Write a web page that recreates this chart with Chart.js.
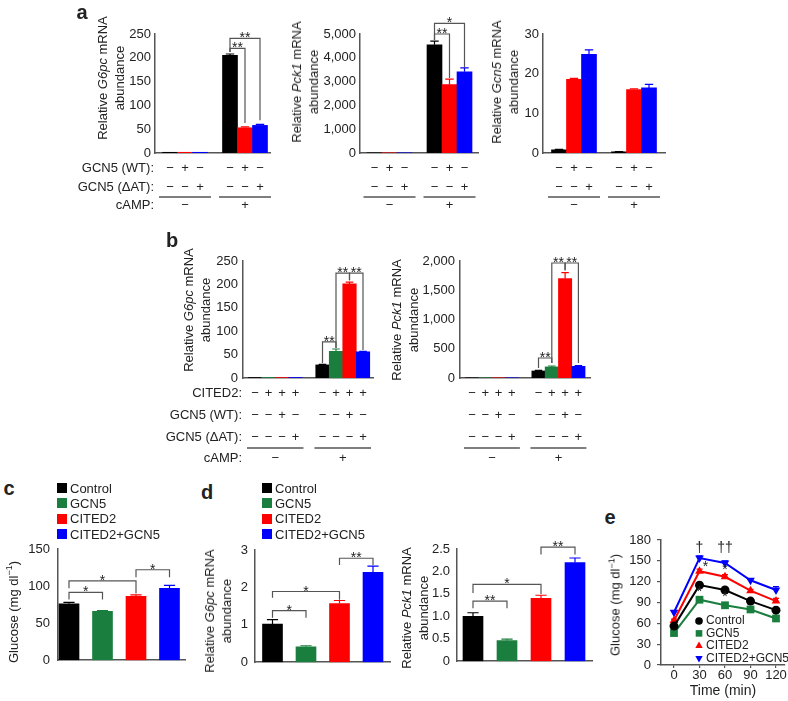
<!DOCTYPE html>
<html>
<head>
<meta charset="utf-8">
<script src="https://cdn.jsdelivr.net/npm/chart.js@4.4.1/dist/chart.umd.min.js"></script>
<style>
body { margin: 0; background: #fff; width: 788px; height: 701px; position: relative; overflow: hidden;
       font-family: "Liberation Sans", Arial, sans-serif; color: #222; }
canvas { position: absolute; }
.t { position: absolute; white-space: nowrap; font-size: 13px; line-height: 17px; }
.rot { transform: translate(-50%, -50%) rotate(-90deg); text-align: center; }
.panel { position: absolute; font-weight: bold; font-size: 20px; transform: translate(-50%, -50%); }
.sq { position: absolute; width: 10px; height: 10px; }
sup { font-size: 9px; line-height: 0; }
</style>
</head>
<body>
<script>
// ---- data ----

// panel a: hepatocytes, GCN5 WT / GCN5 dAT, with and without cAMP
const aGcn5WT = ["−", "+", "−", "−", "+", "−"];
const aGcn5dAT = ["−", "−", "+", "−", "−", "+"];
const aCamp = ["−", "+"];
const aG6pc = [1.5, 1.5, 1.5, 205, 53, 58];
const aG6pcErr = [0, 0, 0, 3, 2, 2];
const aPck1 = [8, 8, 8, 4550, 2870, 3410];
const aPck1Err = [0, 0, 0, 150, 230, 170];
const aGcn5 = [0.8, 18.6, 24.9, 0.3, 16.0, 16.4];
const aGcn5Err = [0.1, 0.2, 1.1, 0.05, 0.2, 0.9];

// panel b: CITED2 with GCN5 WT / GCN5 dAT
const bCited2 = ["−", "+", "+", "+", "−", "+", "+", "+"];
const bGcn5WT = ["−", "−", "+", "−", "−", "−", "+", "−"];
const bGcn5dAT = ["−", "−", "−", "+", "−", "−", "−", "+"];
const bCamp = ["−", "+"];
const bG6pc = [1, 1, 1, 1, 28, 57, 201, 56];
const bG6pcErr = [0, 0, 0, 0, 1, 5, 4, 1];
const bPck1 = [3, 3, 3, 3, 120, 190, 1700, 200];
const bPck1Err = [0, 0, 0, 0, 10, 15, 100, 10];

// panels c, d: mice
const groups = ["Control", "GCN5", "CITED2", "CITED2+GCN5"];
const cGlucose = [76, 66, 86, 97];
const cGlucoseErr = [2, 0.8, 2, 4];
const dG6pc = [1.02, 0.41, 1.57, 2.4];
const dG6pcErr = [0.12, 0.03, 0.08, 0.17];
const dPck1 = [1.0, 0.46, 1.4, 2.2];
const dPck1Err = [0.08, 0.03, 0.07, 0.1];

// panel e: glucose tolerance
const timeMin = [0, 30, 60, 90, 120];
const eControl = [56, 115, 108, 92, 79];
const eGcn5 = [46, 94, 86, 80, 67];
const eCited2 = [64, 135, 127, 107, 92];
const eBoth = [76, 154, 147, 122, 108];
const eControlErr = [2, 3, 2, 2, 3];
const eGcn5Err = [2, 2, 2, 2, 2];
const eCited2Err = [2, 3, 3, 2, 4];
const eBothErr = [2, 3, 3, 2, 5];

// ---- styles ----
const BLACK = "#000000", RED = "#ff0000", BLUE = "#0000ff", GREEN = "#1a7f3e";
const AXIS = "#555555";
const FONT = '13px "Liberation Sans", Arial, sans-serif';
const STAR = '14px "Liberation Sans", Arial, sans-serif';
const YW = 40;

Chart.defaults.font.family = '"Liberation Sans", Arial, sans-serif';
Chart.defaults.font.size = 13;
Chart.defaults.color = "#222";

const aColors = [BLACK, RED, BLUE, BLACK, RED, BLUE];
const bColors = [BLACK, GREEN, RED, BLUE, BLACK, GREEN, RED, BLUE];
const cColors = [BLACK, GREEN, RED, BLUE];

// bars of one group sit side by side, one empty slot between groups
function slots(n, perGroup) {
    return Array.from({ length: n }, (_, i) => i + 1 + Math.floor(i / perGroup));
}

function addCanvas(left, top, w, h) {
    const c = document.createElement("canvas");
    c.width = w; c.height = h;
    c.style.left = left + "px"; c.style.top = top + "px";
    c.style.width = w + "px"; c.style.height = h + "px";
    document.body.appendChild(c);
    return c;
}

function addText(html, x, y, cls, extra) {
    const d = document.createElement("div");
    d.className = cls;
    d.innerHTML = html;
    d.style.left = x + "px"; d.style.top = y + "px";
    if (extra) d.style.cssText += extra;
    document.body.appendChild(d);
    return d;
}

// error bars, significance brackets and the +/- table under the bars
function extras(o) {
    return {
        id: "extras",
        afterDatasetsDraw(chart) {
            const ctx = chart.ctx, x = chart.scales.x, y = chart.scales.y;
            ctx.save();
            ctx.lineWidth = 1.2;
            o.values.forEach((v, i) => {
                const e = o.errors[i];
                if (!e) return;
                const px = x.getPixelForValue(o.xs[i]);
                const y0 = y.getPixelForValue(v), y1 = y.getPixelForValue(v + e);
                const cap = o.barW * 0.28;
                ctx.strokeStyle = o.colors[i];
                ctx.beginPath();
                ctx.moveTo(px, y0); ctx.lineTo(px, y1);
                ctx.moveTo(px - cap, y1); ctx.lineTo(px + cap, y1);
                ctx.stroke();
            });
            ctx.restore();
        },
        afterDraw(chart) {
            const ctx = chart.ctx, x = chart.scales.x, y = chart.scales.y;
            const area = chart.chartArea;
            ctx.save();
            ctx.strokeStyle = AXIS;
            ctx.fillStyle = "#222";
            ctx.lineWidth = 1.2;
            (o.brackets || []).forEach(b => {
                const x1 = x.getPixelForValue(o.xs[b.from]), x2 = x.getPixelForValue(o.xs[b.to]);
                const yl = y.getPixelForValue(b.level);
                ctx.beginPath();
                ctx.moveTo(x1, y.getPixelForValue(b.ends[0]));
                ctx.lineTo(x1, yl); ctx.lineTo(x2, yl);
                ctx.lineTo(x2, y.getPixelForValue(b.ends[1]));
                ctx.stroke();
                ctx.font = STAR; ctx.textAlign = "center"; ctx.textBaseline = "alphabetic";
                ctx.fillText(b.text, (x1 + x2) / 2, yl + 4);
            });
            const t = o.table;
            if (t) {
                const base = area.bottom;
                ctx.font = FONT; ctx.textBaseline = "middle";
                t.rows.forEach((row, r) => {
                    ctx.textAlign = "center";
                    row.forEach((s, i) => ctx.fillText(s, x.getPixelForValue(o.xs[i]), base + t.rowDy[r]));
                    if (t.labels) {
                        ctx.textAlign = "right";
                        ctx.fillText(t.labels[r], area.left - 1, base + t.rowDy[r]);
                    }
                });
                ctx.lineWidth = 1.5;
                t.groups.forEach((g, k) => {
                    const xa = x.getPixelForValue(o.xs[g[0]]) - t.ext, xb = x.getPixelForValue(o.xs[g[1]]) + t.ext;
                    ctx.beginPath();
                    ctx.moveTo(xa, base + t.lineDy); ctx.lineTo(xb, base + t.lineDy);
                    ctx.stroke();
                    ctx.textAlign = "center";
                    ctx.fillText(t.groupLabels[k], (xa + xb) / 2, base + t.groupDy);
                });
                if (t.labels) {
                    ctx.textAlign = "right";
                    ctx.fillText(t.groupTitle, area.left - 1, base + t.groupDy);
                }
            }
            ctx.restore();
        }
    };
}

function barChart(o) {
    const padL = o.padL || 0, padT = 30, padB = o.padB || 4, padR = 4;
    const left = o.axisX - YW - padL;
    const top = o.top - padT;
    const w = o.right - left + padR;
    const h = o.bottom - top + padB;
    const xmin = 1 - (o.first - o.axisX) / o.unit;
    const xmax = xmin + (o.right - o.axisX) / o.unit;
    const canvas = addCanvas(left, top, w, h);
    return new Chart(canvas, {
        type: "bar",
        data: {
            datasets: [{
                data: o.values.map((v, i) => ({ x: o.xs[i], y: v })),
                backgroundColor: o.colors,
                barThickness: o.barW,
                borderWidth: 0
            }]
        },
        options: {
            responsive: false,
            animation: false,
            layout: { padding: { left: padL, top: padT, right: padR, bottom: padB } },
            plugins: { legend: { display: false }, tooltip: { enabled: false } },
            scales: {
                x: {
                    type: "linear", min: xmin, max: xmax, offset: false,
                    ticks: { display: false },
                    grid: { display: false, drawTicks: false },
                    border: { display: true, color: AXIS, width: 1.5 },
                    afterFit: s => { s.height = 0; }
                },
                y: {
                    min: 0, max: o.ymax,
                    ticks: { stepSize: o.step, padding: o.tickPad, callback: o.fmt },
                    grid: { display: false, drawTicks: false },
                    border: { color: AXIS, width: 1.5 },
                    afterFit: s => { s.width = YW; }
                }
            }
        },
        plugins: [extras(o)]
    });
}

const comma = v => v.toLocaleString("en-US");
const plain = v => String(v);
const oneDec = v => (v === 0 ? "0" : v.toFixed(1));

// ---- panel a ----
const aXs = slots(6, 3);
const aTable = {
    rows: [aGcn5WT, aGcn5dAT], rowDy: [15, 34], lineDy: 44, groupDy: 52, ext: 11,
    groups: [[0, 2], [3, 5]], groupLabels: aCamp
};
barChart({
    axisX: 155, top: 34, bottom: 153, right: 270, first: 170, unit: 15, barW: 15,
    padL: 50, padB: 62, xs: aXs, values: aG6pc, errors: aG6pcErr, colors: aColors,
    ymax: 250, step: 50, tickPad: 4, fmt: plain,
    brackets: [
        { from: 3, to: 5, level: 241, ends: [212, 69], text: "**" },
        { from: 3, to: 4, level: 220, ends: [212, 63], text: "**" }
    ],
    table: Object.assign({ labels: ["GCN5 (WT):", "GCN5 (ΔAT):"], groupTitle: "cAMP:" }, aTable)
});
barChart({
    axisX: 360, top: 34, bottom: 153, right: 478, first: 374.5, unit: 15, barW: 15,
    padB: 62, xs: aXs, values: aPck1, errors: aPck1Err, colors: aColors,
    ymax: 5000, step: 1000, tickPad: 4, fmt: comma,
    brackets: [
        { from: 3, to: 5, level: 5450, ends: [4750, 3600], text: "*" },
        { from: 3, to: 4, level: 5000, ends: [4750, 3150], text: "**" }
    ],
    table: aTable
});
barChart({
    axisX: 543, top: 34, bottom: 153, right: 665, first: 559, unit: 15, barW: 15,
    padB: 62, xs: aXs, values: aGcn5, errors: aGcn5Err, colors: aColors,
    ymax: 30, step: 10, tickPad: 4, fmt: plain,
    table: aTable
});

// ---- panel b ----
const bXs = slots(8, 4);
const bTable = {
    rows: [bCited2, bGcn5WT, bGcn5dAT], rowDy: [15, 37, 59], lineDy: 70, groupDy: 80, ext: 8,
    groups: [[0, 3], [4, 7]], groupLabels: bCamp
};
barChart({
    axisX: 243, top: 261, bottom: 378, right: 373, first: 255, unit: 13.5, barW: 13.5,
    padL: 50, padB: 90, xs: bXs, values: bG6pc, errors: bG6pcErr, colors: bColors,
    ymax: 250, step: 50, tickPad: 5, fmt: plain,
    brackets: [
        { from: 4, to: 5, level: 77, ends: [32, 64], text: "**" },
        { from: 5, to: 6, level: 224, ends: [64, 209], text: "**" },
        { from: 6, to: 7, level: 224, ends: [209, 60], text: "**" }
    ],
    table: Object.assign({ labels: ["CITED2:", "GCN5 (WT):", "GCN5 (ΔAT):"], groupTitle: "cAMP:" }, bTable)
});
barChart({
    axisX: 460, top: 261, bottom: 378, right: 590, first: 472, unit: 13.3, barW: 13.3,
    padB: 90, xs: bXs, values: bPck1, errors: bPck1Err, colors: bColors,
    ymax: 2000, step: 500, tickPad: 5, fmt: comma,
    brackets: [
        { from: 4, to: 5, level: 342, ends: [170, 256], text: "**" },
        { from: 5, to: 6, level: 1966, ends: [256, 1840], text: "**" },
        { from: 6, to: 7, level: 1966, ends: [1840, 256], text: "**" }
    ],
    table: bTable
});

// ---- panels c, d ----
const cXs = slots(4, 4);
barChart({
    axisX: 58, top: 549, bottom: 672, right: 185, first: 69, unit: 33.5, barW: 20,
    xs: cXs, values: cGlucose, errors: cGlucoseErr, colors: cColors,
    ymax: 150, step: 50, tickPad: 8, fmt: plain,
    brackets: [
        { from: 0, to: 1, level: 91.5, ends: [82, 82], text: "*" },
        { from: 0, to: 2, level: 107, ends: [97, 90], text: "*" },
        { from: 2, to: 3, level: 122, ends: [112, 112], text: "*" }
    ]
});
barChart({
    axisX: 255, top: 550, bottom: 673, right: 390, first: 272.5, unit: 33.5, barW: 20,
    xs: cXs, values: dG6pc, errors: dG6pcErr, colors: cColors,
    ymax: 3, step: 1, tickPad: 7, fmt: plain,
    brackets: [
        { from: 0, to: 1, level: 1.38, ends: [1.19, 1.19], text: "*" },
        { from: 0, to: 2, level: 1.89, ends: [1.72, 1.67], text: "*" },
        { from: 2, to: 3, level: 2.78, ends: [2.6, 2.6], text: "**" }
    ]
});
barChart({
    axisX: 457, top: 549, bottom: 672, right: 592, first: 473, unit: 34, barW: 20,
    xs: cXs, values: dPck1, errors: dPck1Err, colors: cColors,
    ymax: 2.5, step: 0.5, tickPad: 7, fmt: oneDec,
    brackets: [
        { from: 0, to: 1, level: 1.34, ends: [1.18, 1.18], text: "**" },
        { from: 0, to: 2, level: 1.71, ends: [1.52, 1.5], text: "*" },
        { from: 2, to: 3, level: 2.54, ends: [2.38, 2.38], text: "**" }
    ]
});

// ---- panel e ----
const eSeries = [
    { label: "Control", values: eControl, errors: eControlErr, color: BLACK, style: "circle", r: 4.5, rot: 0 },
    { label: "GCN5", values: eGcn5, errors: eGcn5Err, color: GREEN, style: "rect", r: 5.5, rot: 0 },
    { label: "CITED2", values: eCited2, errors: eCited2Err, color: RED, style: "triangle", r: 5, rot: 0 },
    { label: "CITED2+GCN5", values: eBoth, errors: eBothErr, color: BLUE, style: "triangle", r: 5, rot: 180 }
];
const eMarks = [
    { x: 30, y: 168, t: "†" }, { x: 60, y: 168, t: "††" },
    { x: 37, y: 141, t: "*" }, { x: 60, y: 136, t: "*" },
    { x: 30, y: 105, t: "*" }, { x: 60, y: 97, t: "*" }
];

function drawMarker(ctx, style, r, rot, px, py) {
    ctx.beginPath();
    if (style === "circle") {
        ctx.arc(px, py, r, 0, Math.PI * 2);
    } else if (style === "rect") {
        const s = r * Math.SQRT1_2;
        ctx.rect(px - s, py - s, 2 * s, 2 * s);
    } else {
        const d = rot ? -1 : 1;
        ctx.moveTo(px, py - d * r);
        ctx.lineTo(px + r * 0.87, py + d * r * 0.5);
        ctx.lineTo(px - r * 0.87, py + d * r * 0.5);
        ctx.closePath();
    }
    ctx.fill();
}

const eExtras = {
    id: "eExtras",
    afterDatasetsDraw(chart) {
        const ctx = chart.ctx, x = chart.scales.x, y = chart.scales.y, area = chart.chartArea;
        ctx.save();
        ctx.lineWidth = 1.2;
        eSeries.forEach(s => {
            ctx.strokeStyle = s.color;
            s.values.forEach((v, i) => {
                const px = x.getPixelForValue(timeMin[i]);
                const y1 = y.getPixelForValue(v + s.errors[i]);
                ctx.beginPath();
                ctx.moveTo(px, y.getPixelForValue(v)); ctx.lineTo(px, y1);
                ctx.moveTo(px - 3, y1); ctx.lineTo(px + 3, y1);
                ctx.stroke();
            });
        });
        ctx.fillStyle = "#222";
        ctx.font = STAR; ctx.textAlign = "center"; ctx.textBaseline = "middle";
        eMarks.forEach(m => ctx.fillText(m.t, x.getPixelForValue(m.x), y.getPixelForValue(m.y)));
        // legend inside the plot
        ctx.font = '12px "Liberation Sans", Arial, sans-serif';
        ctx.textAlign = "left";
        eSeries.forEach((s, k) => {
            const ly = area.bottom - 44 + k * 12.4;
            ctx.fillStyle = s.color;
            drawMarker(ctx, s.style, s.r * 0.85, s.rot, area.left + 38, ly);
            ctx.fillStyle = "#222";
            ctx.fillText(s.label, area.left + 45, ly);
        });
        ctx.restore();
    }
};

(function () {
    // the canvas runs past the page edge so the last tick label never squeezes the plot
    const axisX = 661, top = 540, right = 785, u = 102 / 120;
    const padT = 20, padR = 14;
    const left = axisX - YW;
    const canvas = addCanvas(left, top - padT, right - left + padR, 701 - (top - padT));
    new Chart(canvas, {
        type: "line",
        data: {
            datasets: eSeries.map(s => ({
                label: s.label,
                data: s.values.map((v, i) => ({ x: timeMin[i], y: v })),
                borderColor: s.color, backgroundColor: s.color,
                pointBackgroundColor: s.color, pointBorderWidth: 0,
                pointStyle: s.style, pointRadius: s.r, pointRotation: s.rot,
                borderWidth: 2, tension: 0
            }))
        },
        options: {
            responsive: false,
            animation: false,
            layout: { padding: { left: 0, top: padT, right: padR, bottom: 0 } },
            plugins: { legend: { display: false }, tooltip: { enabled: false } },
            scales: {
                x: {
                    type: "linear", min: -(674 - axisX) / u, max: (right - 674) / u,
                    afterBuildTicks: s => { s.ticks = timeMin.map(v => ({ value: v })); },
                    ticks: { padding: 0, maxRotation: 0, autoSkip: false },
                    grid: { drawOnChartArea: false, tickLength: 3, color: AXIS, lineWidth: 1.2 },
                    border: { color: AXIS, width: 1.5 },
                    title: { display: true, text: "Time (min)", font: { size: 14 }, padding: { top: 0, bottom: 1 } },
                    afterFit: s => { s.height = 36; }
                },
                y: {
                    min: 0, max: 180,
                    ticks: { stepSize: 30, padding: 6 },
                    grid: { drawOnChartArea: false, tickLength: 4, color: AXIS, lineWidth: 1.2 },
                    border: { color: AXIS, width: 1.5 },
                    afterFit: s => { s.width = YW; }
                }
            }
        },
        plugins: [eExtras]
    });
})();

// ---- text outside the plots ----
addText("a", 82, 12, "panel");
addText("b", 172, 240, "panel");
addText("c", 9, 488, "panel");
addText("d", 207, 492, "panel");
addText("e", 610, 517, "panel");

addText("Relative <i>G6pc</i> mRNA<br>abundance", 110.5, 78, "t rot");
addText("Relative <i>Pck1</i> mRNA<br>abundance", 304.5, 82, "t rot");
addText("Relative <i>Gcn5</i> mRNA<br>abundance", 504.5, 82, "t rot");
addText("Relative <i>G6pc</i> mRNA<br>abundance", 197, 310, "t rot");
addText("Relative <i>Pck1</i> mRNA<br>abundance", 405, 320, "t rot");
addText("Glucose (mg dl<sup>−1</sup>)", 13, 612, "t rot");
addText("Relative <i>G6pc</i> mRNA<br>abundance", 217.5, 611, "t rot");
addText("Relative <i>Pck1</i> mRNA<br>abundance", 414.5, 608, "t rot");
addText("Glucose (mg dl<sup>−1</sup>)", 615, 605, "t rot");

// legends of c and d
[57, 262].forEach(lx => {
    groups.forEach((g, i) => {
        const ly = 488 + i * 15.4;
        addText("", lx, ly - 5, "sq", "background:" + cColors[i]);
        addText(g, lx + 13, ly - 8.5, "t");
    });
});
</script>
</body>
</html>
